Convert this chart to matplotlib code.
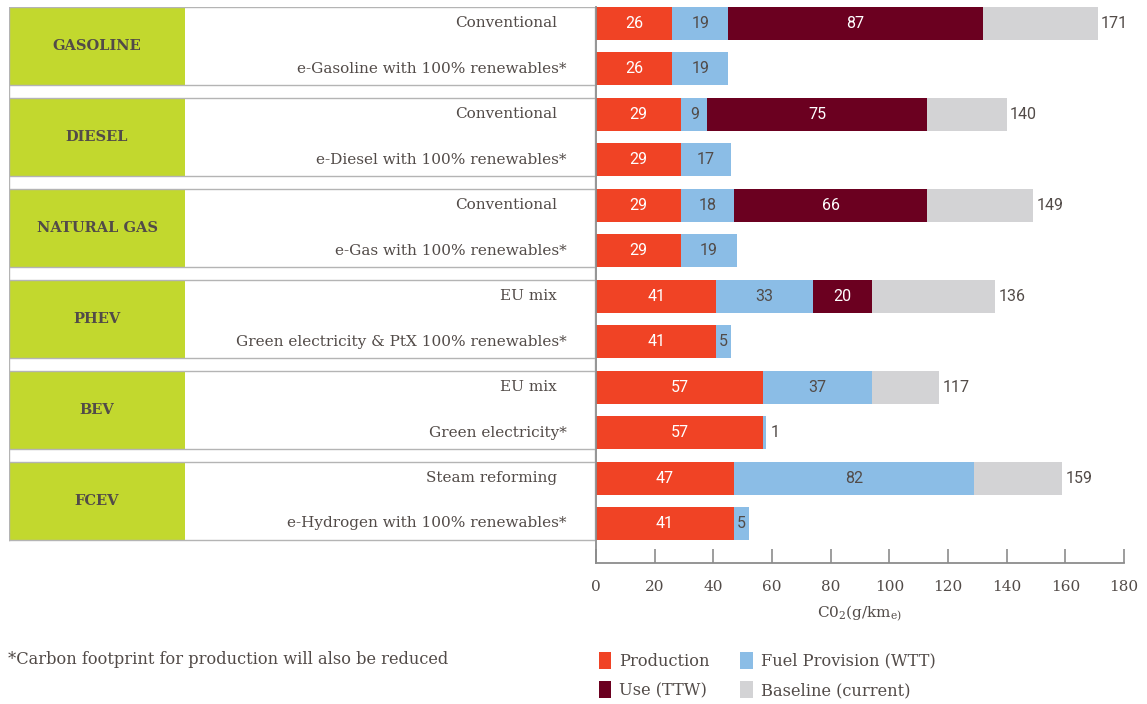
import matplotlib
matplotlib.use("Agg")
import matplotlib.pyplot as plt
from matplotlib.patches import Rectangle
import numpy as np

# data
groups = ["GASOLINE", "DIESEL", "NATURAL GAS", "PHEV", "BEV", "FCEV"]
scenarios = ["Conventional", "e-Gasoline with 100% renewables*",
             "Conventional", "e-Diesel with 100% renewables*",
             "Conventional", "e-Gas with 100% renewables*",
             "EU mix", "Green electricity & PtX 100% renewables*",
             "EU mix", "Green electricity*",
             "Steam reforming", "e-Hydrogen with 100% renewables*"]
production = [26, 26, 29, 29, 29, 29, 41, 41, 57, 57, 47, 47]
production_lbl = ["26", "26", "29", "29", "29", "29", "41", "41", "57", "57", "47", "41"]
fuel = [19, 19, 9, 17, 18, 19, 33, 5, 37, 1, 82, 5]
use = [87, 0, 75, 0, 66, 0, 20, 0, 0, 0, 0, 0]
total = [171, None, 140, None, 149, None, 136, None, 117, None, 159, None]

c_prod = "#f04325"
c_fuel = "#8bbde6"
c_use = "#6b0020"
c_base = "#d3d3d5"
c_green = "#c2d82e"
c_txt = "#524b48"
c_line = "#b4b4b4"

plt.rcParams["font.family"] = ["DejaVu Serif"]
plt.rcParams["mathtext.fontset"] = "dejavuserif"
numfont = "Roboto"

W, H = 1147, 704
fig = plt.figure(figsize=(W / 100, H / 100), dpi=100)

bottom = (H - 563) / H
height = 556 / H
ax = fig.add_axes([596 / W, bottom, 528 / W, height])
ta = fig.add_axes([9 / W, bottom, 586 / W, height])
ylim = (11.87, -0.363)

y = np.arange(len(scenarios))
bh = 0.726
prod = np.array(production)
fu = np.array(fuel)
us = np.array(use)
base = np.array([t - p - f - u if t else 0 for t, p, f, u in zip(total, production, fuel, use)])

ax.barh(y, prod, height=bh, color=c_prod, label="Production")
ax.barh(y, us, left=prod + fu, height=bh, color=c_use, label="Use (TTW)")
ax.barh(y, fu, left=prod, height=bh, color=c_fuel, label="Fuel Provision (WTT)")
ax.barh(y, base, left=prod + fu + us, height=bh, color=c_base, label="Baseline (current)")

for i in range(len(y)):
    ax.text(prod[i] / 2, y[i], production_lbl[i], ha="center", va="center",
            color="white", fontsize=11.5, family=numfont)
    if fu[i] >= 3:
        ax.text(prod[i] + fu[i] / 2, y[i], str(fu[i]), ha="center", va="center",
                color=c_txt, fontsize=11.5, family=numfont)
    else:
        ax.text(prod[i] + fu[i] + 1.5, y[i], str(fu[i]), ha="left", va="center",
                color=c_txt, fontsize=11.5, family=numfont)
    if us[i] > 0:
        ax.text(prod[i] + fu[i] + us[i] / 2, y[i], str(us[i]), ha="center", va="center",
                color="white", fontsize=11.5, family=numfont)
    if total[i]:
        ax.text(total[i] + 1.2, y[i], str(total[i]), ha="left", va="center",
                color=c_txt, fontsize=11.5, family=numfont)

ax.set_xlim(0, 180)
ax.set_ylim(*ylim)
ax.set_xticks(np.arange(0, 181, 20))
ax.set_yticks([])
for s in ["top", "right"]:
    ax.spines[s].set_visible(False)
for s in ["left", "bottom"]:
    ax.spines[s].set_color("#8c8c8c")
    ax.spines[s].set_linewidth(1.3)
ax.tick_params(axis="x", direction="in", length=10, width=1.2, color="#8c8c8c",
               labelsize=11, labelcolor=c_txt, pad=12)
ax.set_xlabel(r"C0$_2$(g/km$_{\mathrm{e)}}$", fontsize=11, color=c_txt, labelpad=7)
ax.patch.set_alpha(0)

# left table
ta.set_xlim(0, 1)
ta.set_ylim(*ylim)
ta.axis("off")
gx = 176 / 586
top0 = -bh / 2
bot5 = len(scenarios) - 1 + bh / 2
ta.plot([0, 0], [top0, bot5], color=c_line, lw=1)
ta.plot([1, 1], [top0, bot5], color=c_line, lw=1)
for g, name in enumerate(groups):
    t = 2 * g - bh / 2
    b = 2 * g + 1 + bh / 2
    ta.add_patch(Rectangle((0, t), gx, b - t, color=c_green, lw=0))
    ta.plot([0, 1], [t, t], color=c_line, lw=1)
    ta.plot([0, 1], [b, b], color=c_line, lw=1)
    ta.text(gx / 2, 2 * g + 0.5, name, ha="center", va="center",
            fontsize=10.5, fontweight="bold", color=c_txt)
for i, s in enumerate(scenarios):
    xr = 0.935 if i % 2 == 0 else 0.952
    ta.text(xr, y[i], s, ha="right", va="center", fontsize=11, color=c_txt)

# footnote and legend
fig.text(8 / W, 1 - 660 / H, "*Carbon footprint for production will also be reduced",
         ha="left", va="center", fontsize=11.7, color=c_txt)
h, l = ax.get_legend_handles_labels()
leg = fig.legend(h, l, ncol=2, loc="upper left", bbox_to_anchor=(584 / W, 1 - 637 / H),
                 frameon=False, fontsize=11.7, handlelength=0.75, handleheight=1.25,
                 handletextpad=0.5, columnspacing=1.9, labelspacing=0.7)
for t in leg.get_texts():
    t.set_color(c_txt)

fig.savefig("out.png", dpi=100)
